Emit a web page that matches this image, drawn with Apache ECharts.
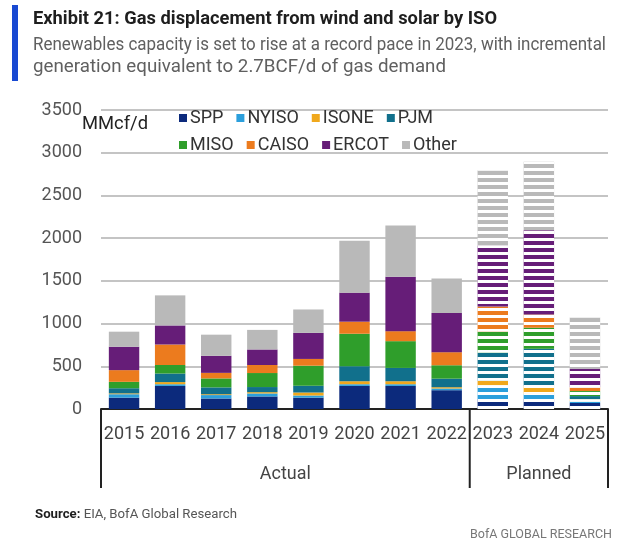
<!DOCTYPE html>
<html>
<head>
<meta charset="utf-8">
<script src="https://cdn.jsdelivr.net/npm/echarts@6/dist/echarts.min.js"></script>
<style>
  html, body { margin: 0; padding: 0; background: #ffffff; }
  #chart { width: 633px; height: 544px; }
</style>
</head>
<body>
<div id="chart"></div>
<script>
// Gas displacement from wind and solar by ISO, MMcf/d
const years = ['2015', '2016', '2017', '2018', '2019', '2020', '2021', '2022', '2023', '2024', '2025'];
const periodLabels = ['Actual', 'Planned'];
const periodSpans = [8, 3];

const SPP   = [133, 270, 123, 147, 133, 270, 270, 220, 117, 117, 70];
const NYISO = [40, 20, 40, 35, 25, 20, 20, 20, 153, 59, 23];
const ISONE = [10, 25, 10, 15, 35, 35, 35, 15, 59, 94, 23];
const PJM   = [60, 100, 80, 60, 79, 176, 156, 100, 329, 435, 35];
const MISO  = [75, 100, 105, 164, 235, 380, 313, 157, 247, 247, 59];
const CAISO = [137, 240, 65, 94, 79, 141, 117, 153, 294, 153, 47];
const ERCOT = [274, 223, 200, 182, 305, 340, 638, 458, 716, 987, 215];
const Other = [176, 352, 247, 229, 274, 607, 600, 404, 880, 802, 600];

const yTicks = [0, 500, 1000, 1500, 2000, 2500, 3000, 3500];

const seriesDefs = [
  { name: 'SPP',   data: SPP,   color: '#0c2a7c' },
  { name: 'NYISO', data: NYISO, color: '#2b9fdc' },
  { name: 'ISONE', data: ISONE, color: '#f0a81c' },
  { name: 'PJM',   data: PJM,   color: '#11708c' },
  { name: 'MISO',  data: MISO,  color: '#2f9e2b' },
  { name: 'CAISO', data: CAISO, color: '#ec7b1e' },
  { name: 'ERCOT', data: ERCOT, color: '#661d78' },
  { name: 'Other', data: Other, color: '#b9b9b9' }
];

const FONT = "Roboto, 'Liberation Sans', sans-serif";
const actualCount = periodSpans[0];

// planned years are drawn as horizontally striped bars
const stripes = {
  symbol: 'rect',
  symbolSize: 1,
  dashArrayX: [1, 0],
  dashArrayY: [3, 4],
  color: '#ffffff',
  rotation: 0
};

// horizontal squeeze so a text line spans a given width (condensed look)
const measureCtx = document.createElement('canvas').getContext('2d');
function squeeze(text, font, width) {
  measureCtx.font = font;
  const w = measureCtx.measureText(text).width;
  return w > 0 ? width / w : 1;
}
function condensedText(text, font, x, y, width, fill, align, vAlign) {
  const sx = squeeze(text, font, width);
  return {
    type: 'text', x: x, y: y, scaleX: sx,
    style: { text: text, font: font, fill: fill, align: align || 'left', verticalAlign: vAlign || 'middle' }
  };
}

const chart = echarts.init(document.getElementById('chart'), null, { renderer: 'canvas' });

const series = seriesDefs.map(function (d) {
  return {
    name: d.name,
    type: 'bar',
    stack: 'total',
    barCategoryGap: '34%',
    itemStyle: { color: d.color },
    emphasis: { disabled: true },
    data: d.data.map(function (v, i) {
      if (i < actualCount) return v;
      return { value: v, itemStyle: { decal: stripes } };
    })
  };
});

const legendCommon = {
  icon: 'rect',
  itemWidth: 8,
  itemHeight: 8,
  itemGap: 13,
  padding: 0,
  selectedMode: false,
  textStyle: { fontFamily: FONT, fontSize: 18, color: '#333', width: 88, padding: [0, 0, 0, -2] }
};

chart.setOption({
  animation: false,
  backgroundColor: '#ffffff',
  grid: { left: 101, right: 25, top: 110, bottom: 135 },
  legend: [
    Object.assign({ left: 179, top: 109, data: ['SPP', 'NYISO', 'ISONE', 'PJM'] }, legendCommon),
    Object.assign({ left: 179, top: 136, data: ['MISO', 'CAISO', 'ERCOT', 'Other'] }, legendCommon)
  ],
  xAxis: {
    type: 'category',
    data: years,
    axisLine: { lineStyle: { color: '#222', width: 2 } },
    axisTick: { show: false },
    axisLabel: { fontFamily: FONT, fontSize: 18, color: '#444', margin: 16, interval: 0 }
  },
  yAxis: {
    type: 'value',
    min: yTicks[0],
    max: yTicks[yTicks.length - 1],
    interval: 500,
    axisLine: { show: false },
    axisTick: { show: false },
    axisLabel: { fontFamily: FONT, fontSize: 18, color: '#555', margin: 19, formatter: function (v) { return String(v); } },
    splitLine: { lineStyle: { color: '#c4c4c4', width: 2 } }
  },
  series: series
});

// period brackets under the category axis, placed from the axis scale
const p0 = chart.convertToPixel({ xAxisIndex: 0 }, 0);
const p1 = chart.convertToPixel({ xAxisIndex: 0 }, 1);
const band = p1 - p0;
const axisY = chart.convertToPixel({ yAxisIndex: 0 }, 0);
const bracketBottom = axisY + 79;

const graphics = [
  { type: 'rect', shape: { x: 12, y: 5, width: 6, height: 76 }, style: { fill: '#1849d2' } },
  condensedText('Exhibit 21: Gas displacement from wind and solar by ISO', 'bold 18px ' + FONT, 33, 19, 464, '#1e1e1e'),
  condensedText('Renewables capacity is set to rise at a record pace in 2023, with incremental', '18px ' + FONT, 33, 45, 573, '#606060'),
  condensedText('generation equivalent to 2.7BCF/d of gas demand', '18px ' + FONT, 33, 67, 413, '#606060'),
  condensedText('MMcf/d', '18px ' + FONT, 82, 124, 66, '#222'),
  condensedText('BofA GLOBAL RESEARCH', '12px ' + FONT, 612, 535, 142, '#777', 'right')
];

// source line: bold label plus plain text
const srcLabel = 'Source:';
const srcText = ' EIA, BofA Global Research';
const srcFontB = 'bold 12px ' + FONT;
const srcFont = '12px ' + FONT;
measureCtx.font = srcFontB;
const wLabel = measureCtx.measureText(srcLabel).width;
measureCtx.font = srcFont;
const wText = measureCtx.measureText(srcText).width;
const srcScale = 202 / (wLabel + wText);
graphics.push({
  type: 'text', x: 35, y: 515, scaleX: srcScale,
  style: {
    text: '{b|' + srcLabel + '}' + srcText,
    font: srcFont, fill: '#555', verticalAlign: 'middle',
    rich: { b: { font: srcFontB, fill: '#1e1e1e' } }
  }
});

let start = 0;
const edges = [p0 - band / 2];
const periodWidths = [51, 65];
periodSpans.forEach(function (span, k) {
  const left = p0 - band / 2 + start * band;
  const right = left + span * band;
  edges.push(right);
  const label = condensedText(periodLabels[k], '18px ' + FONT, 0, axisY + 65, periodWidths[k], '#444');
  measureCtx.font = '18px ' + FONT;
  label.x = (left + right) / 2 - periodWidths[k] / 2;
  graphics.push(label);
  start += span;
});
edges.forEach(function (ex) {
  graphics.push({
    type: 'line',
    shape: { x1: ex, y1: axisY, x2: ex, y2: bracketBottom },
    style: { stroke: '#222', lineWidth: 2 }
  });
});

chart.setOption({ graphic: graphics });
</script>
</body>
</html>
